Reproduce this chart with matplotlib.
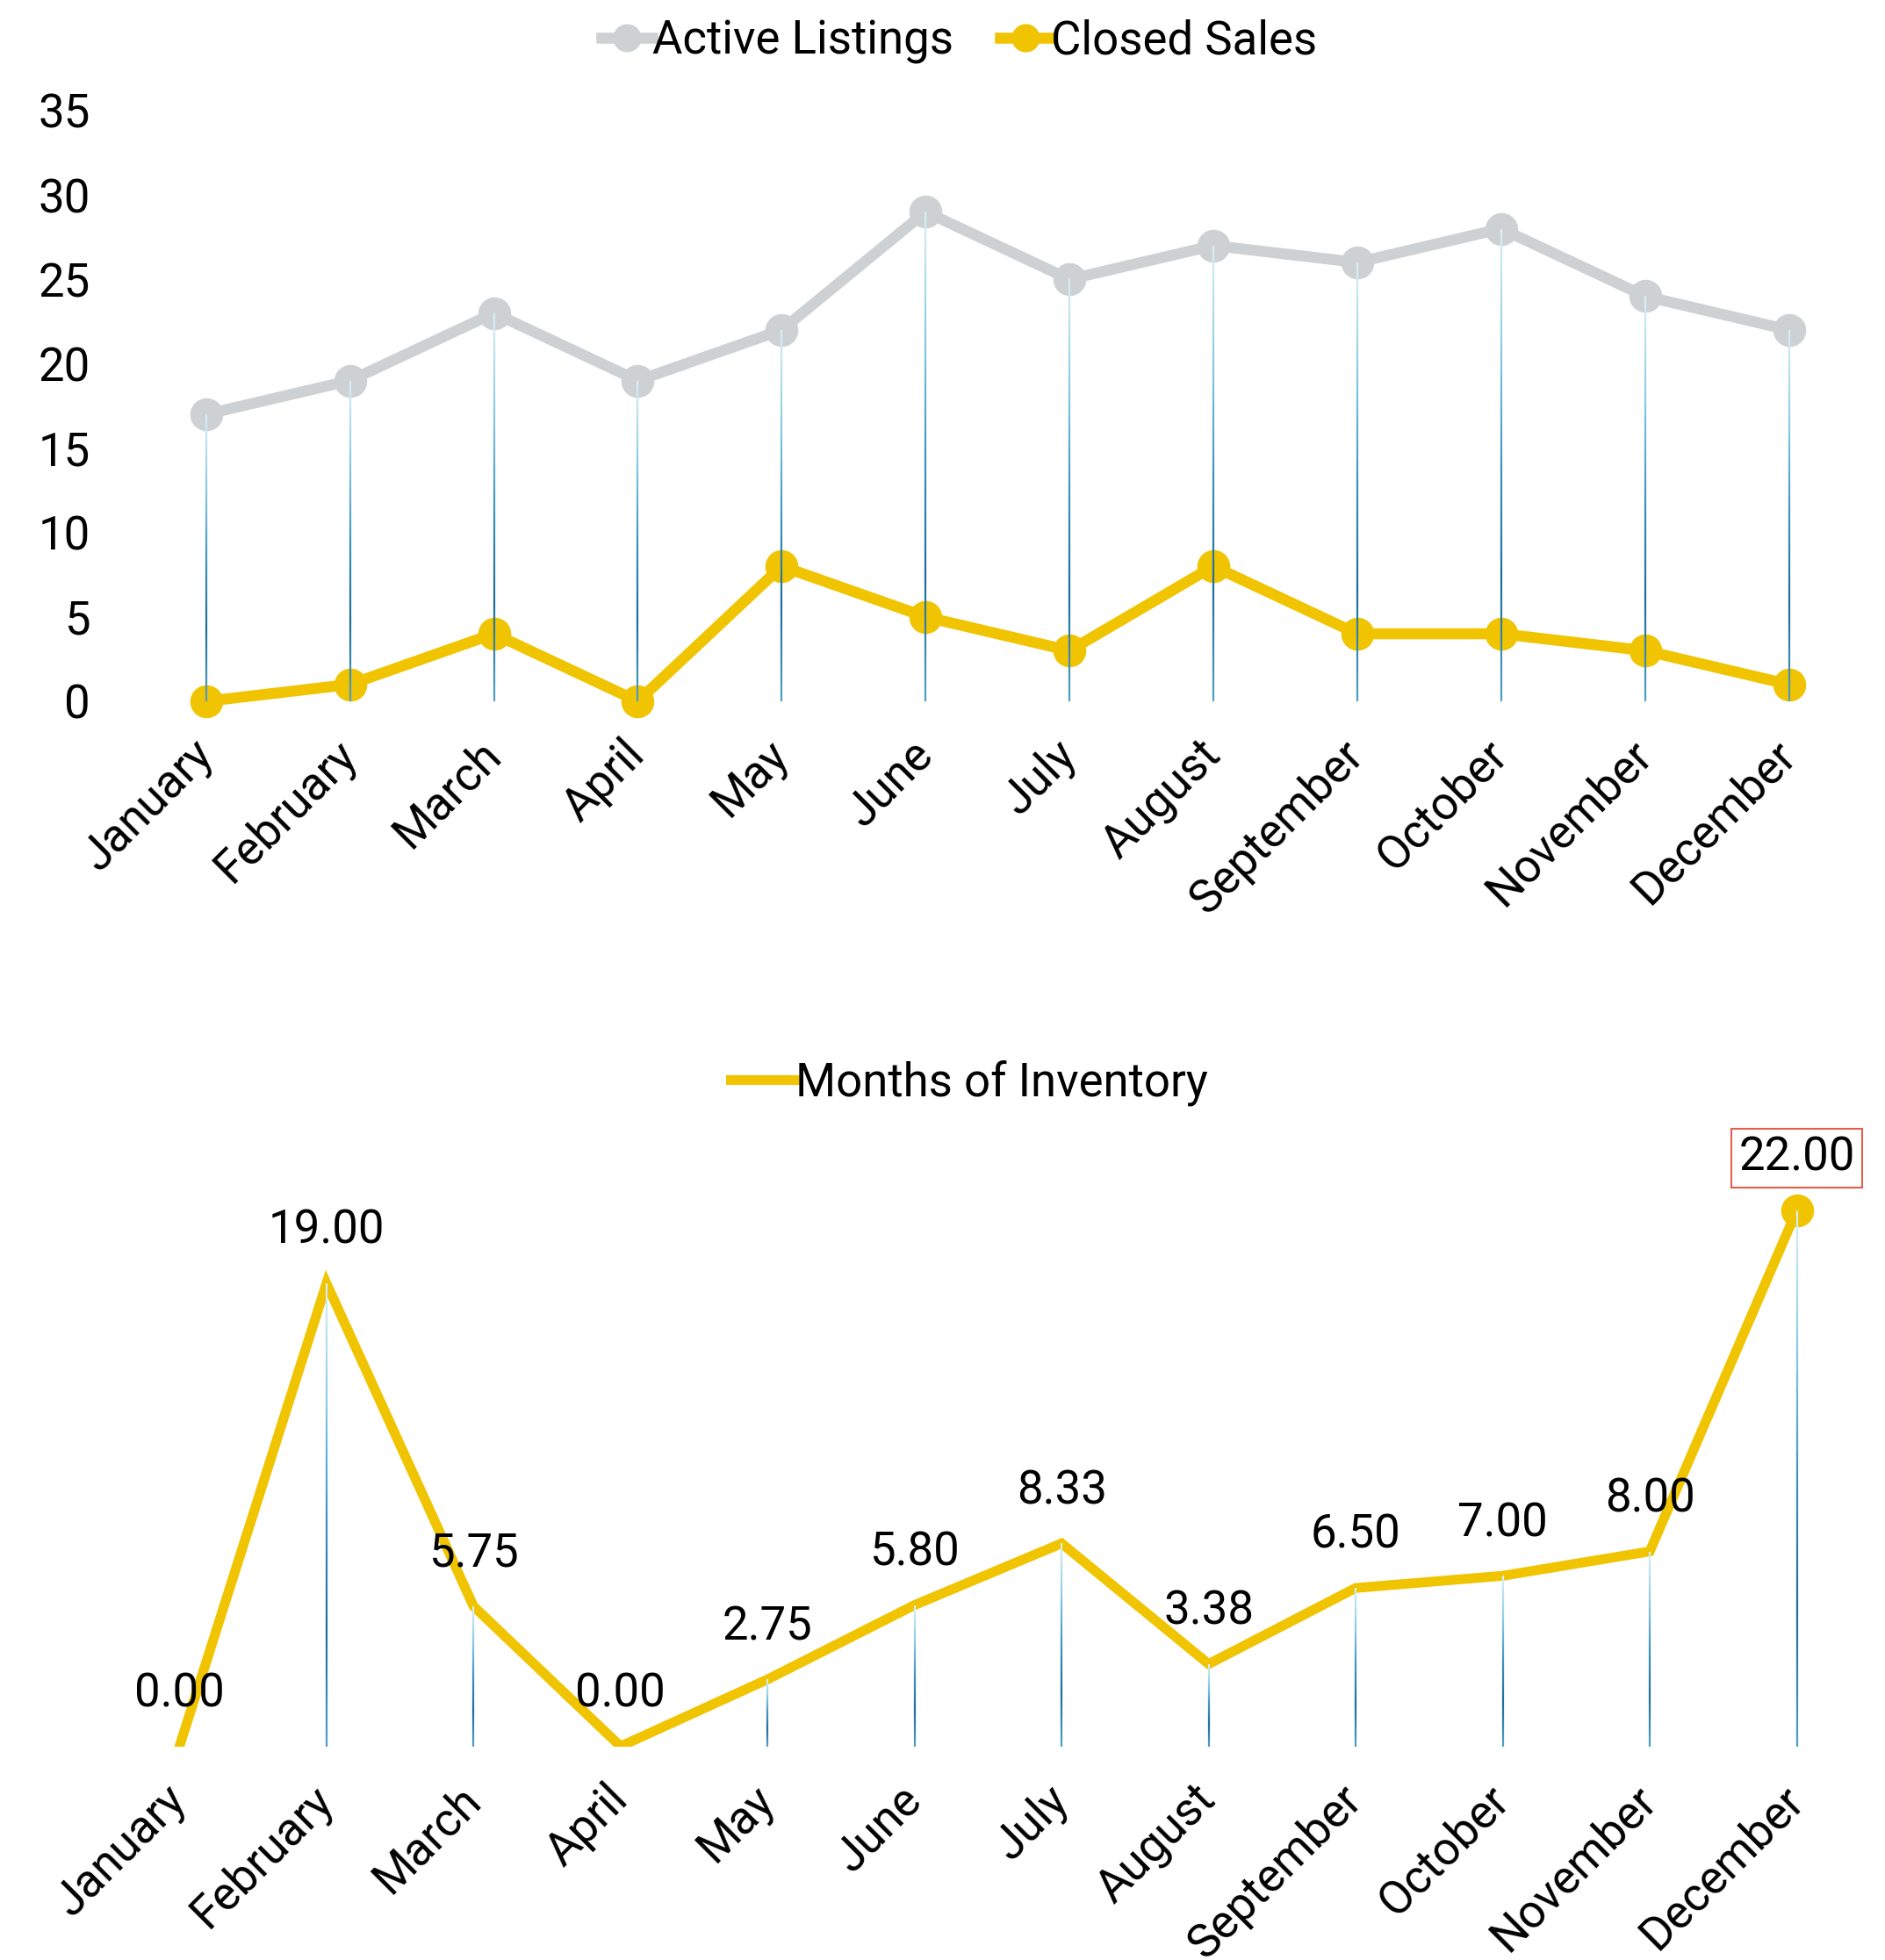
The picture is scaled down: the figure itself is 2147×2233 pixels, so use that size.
import numpy as np
import matplotlib.pyplot as plt
from matplotlib.collections import LineCollection
from matplotlib.colors import LinearSegmentedColormap

months = ["January", "February", "March", "April", "May", "June", "July",
          "August", "September", "October", "November", "December"]
active_listings = [17, 19, 23, 19, 22, 29, 25, 27, 26, 28, 24, 22]
closed_sales = [0, 1, 4, 0, 8, 5, 3, 8, 4, 4, 3, 1]
months_inventory = [0.00, 19.00, 5.75, 0.00, 2.75, 5.80, 8.33, 3.38, 6.50, 7.00, 8.00, 22.00]
inventory_labels = ["0.00", "19.00", "5.75", "0.00", "2.75", "5.80", "8.33",
                    "3.38", "6.50", "7.00", "8.00", "22.00"]

GRAY = "#CDD1D4"
YELLOW = "#F0C400"

plt.rcParams['font.family'] = ['Roboto', 'DejaVu Sans']
plt.rcParams['font.size'] = 38

drop_cmap = LinearSegmentedColormap.from_list(
    "drop", ["#d6eef6", "#8ccbe3", "#3e93c0", "#1c6d99", "#4f9fc6"])


def drop_lines(ax, xs, ys, n=60):
    # gradient vertical lines from each point down to zero
    for x, y in zip(xs, ys):
        if y <= 0:
            continue
        yy = np.linspace(y, 0, n + 1)
        segs = [[(x, yy[i]), (x, yy[i + 1])] for i in range(n)]
        lc = LineCollection(segs, colors=drop_cmap(np.linspace(0, 1, n)),
                            linewidths=1.6, zorder=5)
        ax.add_collection(lc)


fig = plt.figure(figsize=(21.47, 22.33), dpi=100)
x = np.arange(len(months))

# Top chart
ax1 = fig.add_axes([0.0712, 0.6422, 0.916, 0.3014])
ax1.plot(x, active_listings, color=GRAY, lw=9, marker="o", ms=26,
         label="Active Listings", zorder=3, clip_on=False)
ax1.plot(x, closed_sales, color=YELLOW, lw=9, marker="o", ms=26,
         label="Closed Sales", zorder=4, clip_on=False)
drop_lines(ax1, x, active_listings)
ax1.set_xlim(-0.5, 11.5)
ax1.set_ylim(0, 35)
ax1.set_yticks(range(0, 36, 5))
ax1.set_xticks(x)
ax1.set_xticklabels(months, rotation=45, ha="right", va="center",
                    rotation_mode="anchor")
ax1.tick_params(axis="both", length=0)
ax1.tick_params(axis="x", pad=38)
ax1.tick_params(axis="y", pad=36)
for s in ax1.spines.values():
    s.set_visible(False)
ax1.legend(loc="center", bbox_to_anchor=(0.509, 0.979), bbox_transform=fig.transFigure,
           ncol=2, frameon=False, handlelength=1.1, handletextpad=0.0,
           columnspacing=1.0, markerscale=0.85)

# Bottom chart
ax2 = fig.add_axes([0.0562, 0.1090, 0.936, 0.3108])
ax2.plot(x, months_inventory, color=YELLOW, lw=8, label="Months of Inventory",
         zorder=3, solid_joinstyle="miter")
ax2.plot(x[-1:], months_inventory[-1:], color=YELLOW, lw=0, marker="o", ms=26,
         zorder=4)
drop_lines(ax2, x, months_inventory)
for i, (xv, yv) in enumerate(zip(x, months_inventory)):
    bbox = None
    if i == len(x) - 1:
        bbox = dict(boxstyle="square,pad=0.15", fc="white", ec="#E0604F", lw=1.5)
    ax2.annotate(inventory_labels[i], (xv, yv), xytext=(0, 43),
                 textcoords="offset points", ha="center", va="center",
                 bbox=bbox, zorder=6)
ax2.set_xlim(-0.5, 11.5)
ax2.set_ylim(0, 25)
ax2.set_yticks([])
ax2.set_xticks(x)
ax2.set_xticklabels(months, rotation=45, ha="right", va="center",
                    rotation_mode="anchor")
ax2.tick_params(axis="x", length=0, pad=38)
for s in ax2.spines.values():
    s.set_visible(False)
ax2.legend(loc="center", bbox_to_anchor=(0.514, 0.4474), bbox_transform=fig.transFigure,
           frameon=False, handlelength=1.4, handletextpad=0.0)

fig.savefig("out.png", dpi=100)
